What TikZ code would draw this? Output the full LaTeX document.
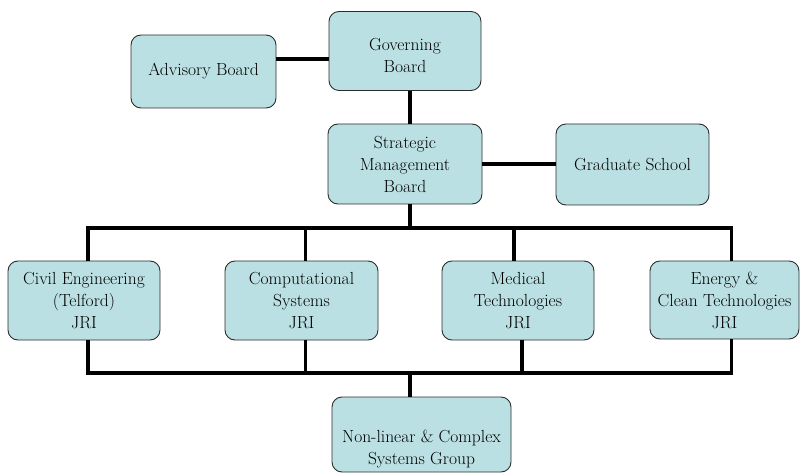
\documentclass[tikz,border=0pt]{standalone}
\usepackage{fontspec}
\usepackage{tikz}
\usetikzlibrary{positioning}
\definecolor{boxfill}{RGB}{187,224,227}
\definecolor{boxline}{RGB}{45,45,45}
\tikzset{
x=1pt, y=-1pt, % one unit is one pixel of the chart, y runs down
font=\fontsize{17.5}{22}\selectfont, % size of all the texts
unit/.style={draw=boxline, line width=0.9pt, fill=boxfill, rounded corners=10pt, align=center, inner sep=0pt}, % sets the properties for each box
link/.style={line width=3.5pt, line join=miter}, % the thick black connectors
}
\begin{document}
\begin{tikzpicture}
            \useasboundingbox (0,0) rectangle (801,473);

            \node[unit, minimum width=152pt, minimum height=79pt,
                  label={[align=center, yshift=-4pt]center:Governing\\Board}] (gov) at (405,51) {};
            \node[unit, minimum width=145pt, minimum height=73pt] (adv) at (203.5,71.5) {Advisory Board};
            \node[unit, minimum width=154pt, minimum height=80pt] (smb) at (405,164) {Strategic\\Management\\Board};
            \node[unit, minimum width=153pt, minimum height=81pt] (grad) at (632.5,164.5) {Graduate School};

            \node[unit, minimum width=152pt, minimum height=79pt] (civil) at (84,300.5) {Civil Engineering\\(Telford)\\JRI};
            \node[unit, minimum width=153pt, minimum height=79pt] (comp) at (301.5,300.5) {Computational\\Systems\\JRI};
            \node[unit, minimum width=152pt, minimum height=79pt] (med) at (518,300.5) {Medical\\Technologies\\JRI};
            \node[unit, minimum width=149pt, minimum height=78pt] (energy) at (724.5,300) {Energy \&\\Clean Technologies\\JRI};

            \node[unit, minimum width=179pt, minimum height=75pt,
                  label={[align=center, yshift=-15pt]center:Non-linear \& Complex\\Systems Group}] (nonlin) at (421.5,434.5) {};

            \coordinate (advlink) at (0,59);
            \coordinate (spine) at (410,0);
            \coordinate (topbus) at (0,228);
            \coordinate (botbus) at (0,373);

            \draw[link] (adv.east |- advlink) -- (gov.west |- advlink);
            \draw[link] (gov.south -| spine) -- (smb.north -| spine);
            \draw[link] (smb.east) -- (grad.west |- smb.east);
            \draw[link] (smb.south -| spine) -- (spine |- topbus);

            % upper bus
            \draw[link] ([xshift=4pt]civil.north) |- ([xshift=7pt]energy.north |- topbus) -- ([xshift=7pt]energy.north);
            \draw[link] ([xshift=4pt]comp.north) -- ([xshift=4pt]comp.north |- topbus);
            \draw[link] ([xshift=-4pt]med.north) -- ([xshift=-4pt]med.north |- topbus);

            % lower bus
            \draw[link] ([xshift=4pt]civil.south) |- ([xshift=7pt]energy.south |- botbus) -- ([xshift=7pt]energy.south);
            \draw[link] ([xshift=4pt]comp.south) -- ([xshift=4pt]comp.south |- botbus);
            \draw[link] ([xshift=4pt]med.south) -- ([xshift=4pt]med.south |- botbus);
            \draw[link] (nonlin.north -| spine) -- (spine |- botbus);
\end{tikzpicture}
\end{document}
